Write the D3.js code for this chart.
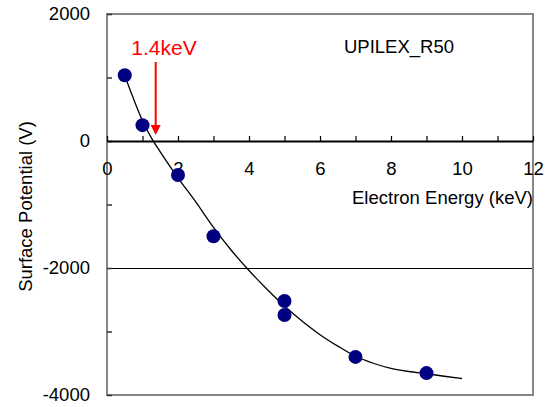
<!DOCTYPE html>
<html>
<head>
<meta charset="utf-8">
<script src="https://cdn.jsdelivr.net/npm/d3@7"></script>
<style>
  html, body { margin: 0; padding: 0; background: #fff; }
  svg text { font-family: "Liberation Sans", Arial, sans-serif; }
</style>
</head>
<body>
<svg id="chart" width="552" height="407"></svg>
<script>
// ---- data ----
const energyKeV = [0.5, 1, 2, 3, 5, 5, 7, 9];
const potentialV = [1035, 250, -535, -1500, -2520, -2740, -3400, -3655];

// fitted curve
const fitX = [0.5, 0.75, 1, 1.25, 1.5, 2, 2.5, 3, 3.5, 4, 4.5, 5, 5.5, 6, 6.5, 7, 7.5, 8, 8.5, 9, 9.5, 10];
const fitY = [1030, 660, 320, 50, -170, -580, -960, -1360, -1720, -2040, -2330, -2600, -2840, -3050, -3230, -3390, -3500, -3580, -3630, -3665, -3705, -3740];

const xTicks = [0, 2, 4, 6, 8, 10, 12];
const xMinorTicks = [0, 1, 2, 3, 4, 5, 6, 7, 8, 9, 10, 11, 12];
const yTicks = [-4000, -2000, 0, 2000];
const yMinorTicks = [-4000, -3000, -2000, -1000, 0, 1000, 2000];

const thresholdKeV = 1.4;
const thresholdLabel = "1.4keV";
const sampleLabel = "UPILEX_R50";
const xTitle = "Electron Energy (keV)";
const yTitle = "Surface Potential (V)";

// ---- layout ----
const svg = d3.select("#chart");
const L = 107, R = 533, T = 14, B = 395;
const x = d3.scaleLinear().domain([0, 12]).range([L, R]);
const y = d3.scaleLinear().domain([-4000, 2000]).range([B, T]);
const fmt = d => String(d);

// gridlines
svg.append("g").selectAll("line").data(yTicks).join("line")
  .attr("x1", L).attr("x2", R)
  .attr("y1", d => Math.round(y(d)) + 0.5).attr("y2", d => Math.round(y(d)) + 0.5)
  .attr("stroke", "#000").attr("stroke-width", 1);

// plot frame (top, right, bottom, left) in gray
svg.append("rect")
  .attr("x", L).attr("y", T).attr("width", R - L).attr("height", B - T)
  .attr("fill", "none").attr("stroke", "#868686").attr("stroke-width", 2);

// y axis: minor ticks inward
const yMinorAxis = d3.axisLeft(y).tickValues(yMinorTicks).tickSize(-5).tickFormat("");
const gyMinor = svg.append("g").attr("transform", `translate(${L},0)`).call(yMinorAxis);
gyMinor.select(".domain").remove();
gyMinor.selectAll(".tick line").attr("stroke", "#333").attr("stroke-width", 1.5);

// y axis labels
const yAxis = d3.axisLeft(y).tickValues(yTicks).tickSize(0).tickPadding(17).tickFormat(fmt);
const gy = svg.append("g").attr("transform", `translate(${L},0)`).call(yAxis);
gy.select(".domain").remove();
gy.selectAll("text").attr("font-size", 18.5).attr("fill", "#000")
  .attr("font-family", "'Liberation Sans', Arial, sans-serif");

// x axis at y = 0
const xMinorAxis = d3.axisBottom(x).tickValues(xMinorTicks).tickSize(-5).tickSizeOuter(0).tickFormat("");
const gxMinor = svg.append("g").attr("transform", `translate(0,${y(0)})`).call(xMinorAxis);
gxMinor.select(".domain").attr("stroke", "#000").attr("stroke-width", 2);
gxMinor.selectAll(".tick line").attr("stroke", "#000").attr("stroke-width", 1.2);

const xAxis = d3.axisBottom(x).tickValues(xTicks).tickSize(0).tickPadding(21).tickFormat(fmt);
const gx = svg.append("g").attr("transform", `translate(0,${y(0)})`).call(xAxis);
gx.select(".domain").remove();
gx.selectAll("text").attr("font-size", 18.5).attr("fill", "#000")
  .attr("font-family", "'Liberation Sans', Arial, sans-serif");

// axis titles
svg.append("text").attr("x", R).attr("y", 204).attr("text-anchor", "end")
  .attr("font-size", 18.5).attr("fill", "#000").text(xTitle);

svg.append("text")
  .attr("transform", `translate(32,${(T + B) / 2 + 2}) rotate(-90)`)
  .attr("text-anchor", "middle").attr("font-size", 18.5).attr("fill", "#000").text(yTitle);

// fitted curve
const line = d3.line().x(d => x(d[0])).y(d => y(d[1])).curve(d3.curveMonotoneX);
svg.append("path").datum(fitX.map((v, i) => [v, fitY[i]]))
  .attr("d", line).attr("fill", "none").attr("stroke", "#000").attr("stroke-width", 1.3);

// points
svg.append("g").selectAll("circle").data(energyKeV.map((v, i) => [v, potentialV[i]])).join("circle")
  .attr("cx", d => x(d[0])).attr("cy", d => y(d[1])).attr("r", 7)
  .attr("fill", "#000080");

// sample label
svg.append("text").attr("x", 399).attr("y", 53).attr("text-anchor", "middle")
  .attr("font-size", 18.5).attr("fill", "#000").text(sampleLabel);

// threshold annotation
const ax = x(thresholdKeV) - 1;
svg.append("text").attr("x", 164).attr("y", 55).attr("text-anchor", "middle")
  .attr("font-size", 21).attr("fill", "#ff0000").text(thresholdLabel);
svg.append("line").attr("x1", ax).attr("x2", ax).attr("y1", 62).attr("y2", 126)
  .attr("stroke", "#ff0000").attr("stroke-width", 2);
svg.append("path")
  .attr("d", `M${ax - 5},125 L${ax + 5},125 L${ax},135 Z`)
  .attr("fill", "#ff0000");
</script>
</body>
</html>
